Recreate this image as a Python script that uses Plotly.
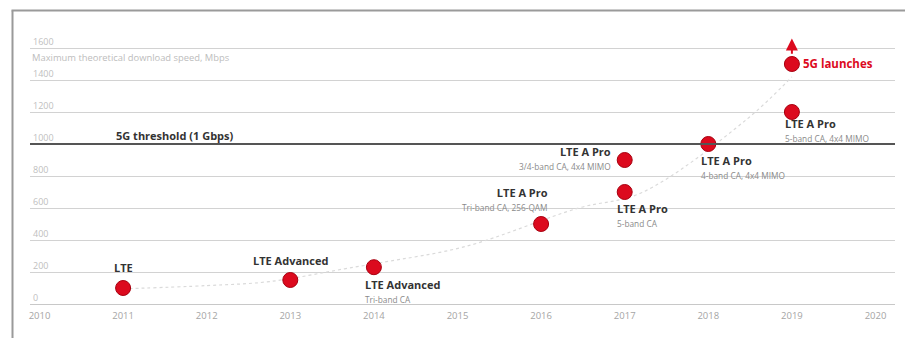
import plotly.graph_objects as go

# ---------------- data ----------------
years = [2011, 2013, 2014, 2016, 2017, 2017, 2018, 2019, 2019]
speeds = [100, 150, 230, 500, 700, 900, 1000, 1200, 1500]
titles = ["LTE", "LTE Advanced", "LTE Advanced", "LTE A Pro", "LTE A Pro",
          "LTE A Pro", "LTE A Pro", "LTE A Pro", "5G launches"]
subtitles = ["", "", "Tri-band CA", "Tri-band CA, 256-QAM", "5-band CA",
             "3/4-band CA, 4x4 MIMO", "4-band CA, 4x4 MIMO", "5-band CA, 4x4 MIMO", ""]

trend_x = [2011.0, 2012.0, 2012.75, 2013.65, 2014.1, 2015.1, 2016.45, 2017.2, 2018.45, 2019.0]
trend_y = [95, 115, 140, 220, 260, 360, 600, 695, 1150, 1420]

y_ticks = [0, 200, 400, 600, 800, 1000, 1200, 1400, 1600]
x_ticks = list(range(2010, 2021))
threshold = 1000
threshold_label = "5G threshold (1 Gbps)"
threshold_label_x = 2011.62
axis_title = "Maximum theoretical download speed, Mbps"

# ---------------- style ----------------
W, H = 905, 338
RED = "#dc0a1e"
FONT = "Open Sans"

# pixel geometry helpers (layout only)
px_left, px_right = 30, 895
px_year0, px_per_year = 39.5, 83.6
x_range = [2010 - (px_year0 - px_left) / px_per_year,
           2010 + (px_right - px_year0) / px_per_year]
px_zero, px_top = 304, 28
mbps_per_px = 200 / 32
y_range = [0, (px_zero - px_top) * mbps_per_px]

fig = go.Figure()

fig.add_trace(go.Scatter(
    x=trend_x, y=trend_y, mode="lines",
    line=dict(color="#dadada", width=1.2, dash="dot", shape="spline"),
    hoverinfo="skip", showlegend=False))

fig.add_trace(go.Scatter(
    x=years, y=speeds, mode="markers",
    marker=dict(size=15, color=RED, line=dict(color="#a8000f", width=1)),
    cliponaxis=False, showlegend=False))

# label placement per point: (xanchor, yanchor, xshift, yshift, align)
placement = [
    ("center", "bottom", 0, 11, "center"),
    ("center", "bottom", 0, 10, "center"),
    ("left", "top", -11, -8, "left"),
    ("right", "bottom", 9, 9, "right"),
    ("left", "top", -10, -7, "left"),
    ("right", "middle", -12, 2, "right"),
    ("left", "top", -9, -7, "left"),
    ("left", "top", -9, -2, "left"),
    ("left", "middle", 9, 0, "left"),
]

annotations = []
for x, y, t, s, (xa, ya, xs, ys, al) in zip(years, speeds, titles, subtitles, placement):
    if t == "5G launches":
        txt = f"<b>{t}</b>"
        fnt = dict(family=FONT, size=11.5, color=RED)
    else:
        txt = f"<b>{t}</b>"
        if s:
            txt += f"<br><span style='font-size:8.3px;color:#8a8a8a'>{s}</span>"
        fnt = dict(family=FONT, size=11, color="#333333")
    annotations.append(dict(
        x=x, y=y, xref="x", yref="y", text=txt, showarrow=False,
        xanchor=xa, yanchor=ya, xshift=xs, yshift=ys, align=al, font=fnt))

# arrow above 5G launch
annotations.append(dict(
    x=years[-1], y=speeds[-1] + 160, xref="x", yref="y",
    ax=years[-1], ay=speeds[-1] + 55, axref="x", ayref="y",
    text="", showarrow=True, arrowhead=2, arrowsize=1.2, arrowwidth=2,
    arrowcolor=RED))

# threshold label
annotations.append(dict(
    x=threshold_label_x, y=threshold, xref="x", yref="y", text=f"<b>{threshold_label}</b>",
    showarrow=False, xanchor="center", yanchor="bottom", yshift=-1,
    font=dict(family=FONT, size=11, color="#333333")))

# axis title
annotations.append(dict(
    x=px_left / W, y=y_ticks[-1], xref="paper", yref="y", text=axis_title,
    showarrow=False, xanchor="left", yanchor="top", yshift=-1,
    font=dict(family=FONT, size=9.4, color="#bdbdbd")))

shapes = [
    dict(type="line", xref="paper", yref="y", x0=px_left / W, x1=px_right / W,
         y0=threshold, y1=threshold, line=dict(color="#555555", width=2)),
    # frame
    dict(type="line", xref="paper", yref="paper", x0=12.5 / W, x1=12.5 / W,
         y0=0, y1=1 - 10.5 / H, line=dict(color="#9a9a9a", width=2)),
    dict(type="line", xref="paper", yref="paper", x0=11.5 / W, x1=1,
         y0=1 - 10.5 / H, y1=1 - 10.5 / H, line=dict(color="#9a9a9a", width=2)),
]

fig.update_layout(
    width=W, height=H, margin=dict(l=0, r=0, t=0, b=0),
    paper_bgcolor="white", plot_bgcolor="white",
    annotations=annotations, shapes=shapes,
    xaxis=dict(domain=[px_left / W, px_right / W], range=x_range,
               tickvals=x_ticks, ticktext=[str(v) for v in x_ticks],
               showgrid=False, zeroline=False, showline=True,
               linecolor="#c8c8c8", linewidth=1, ticks="",
               ticklabeloverflow="allow",
               tickfont=dict(family=FONT, size=9.5, color="#a5a5a5"),
               ticklabelstandoff=3),
    yaxis=dict(domain=[(H - px_zero) / H, (H - px_top) / H], range=y_range,
               tickvals=y_ticks, ticktext=[str(v) for v in y_ticks],
               showgrid=True, gridcolor="#d2d2d2", gridwidth=1,
               zeroline=False, showline=False, ticks="",
               ticklabelposition="inside top", ticklabeloverflow="allow",
               tickfont=dict(family=FONT, size=9, color="#c0c0c0")),
    font=dict(family=FONT),
)

fig.write_html("out.html")
